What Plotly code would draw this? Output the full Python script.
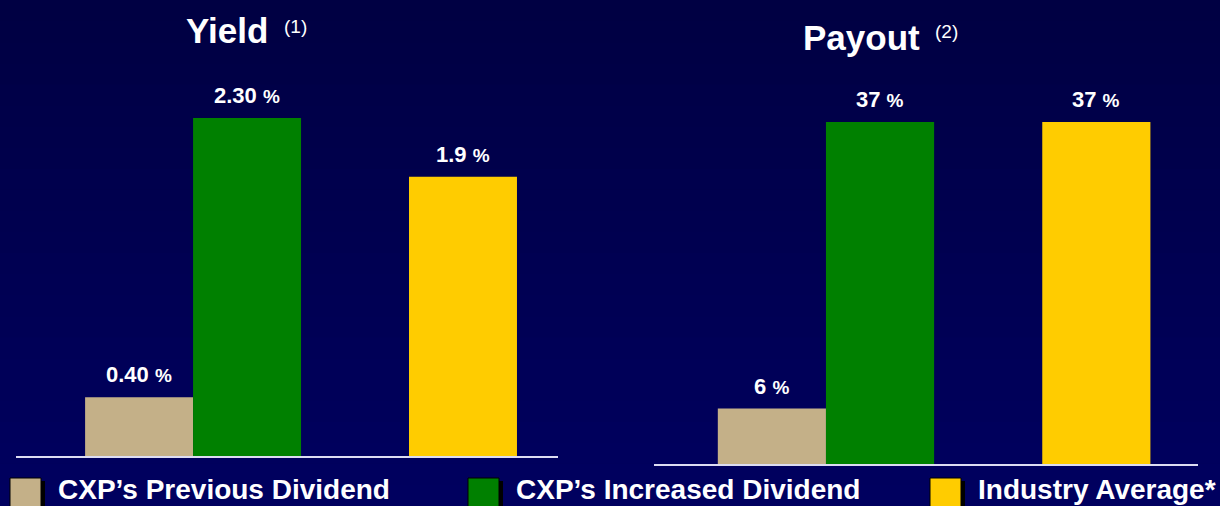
import plotly.graph_objects as go

# ---------------- data ----------------
series_names = ["CXP\u2019s Previous Dividend", "CXP\u2019s Increased Dividend", "Industry Average*"]
series_colors = ["#c4b088", "#008000", "#ffcc00"]
yield_values = [0.40, 2.30, 1.9]
yield_labels = ["0.40", "2.30", "1.9"]
payout_values = [6, 37, 37]
payout_labels = ["6", "37", "37"]
panel_titles = ["Yield", "Payout"]
panel_notes = ["(1)", "(2)"]

# ---------------- layout constants ----------------
W, H = 1220, 506
slot = [0, 1, 3]          # bar slots: first two adjacent, gap, third
FONT = "Liberation Sans, Arial, sans-serif"
BG = "#000052"
BG_TOP, BG_BOT = 0x42, 0x60   # blue channel of the vertical background gradient

fig = go.Figure()

for i, (name, color) in enumerate(zip(series_names, series_colors)):
    fig.add_trace(go.Bar(x=[slot[i]], y=[yield_values[i]], width=1, name=name,
                         marker=dict(color=color, line=dict(width=0)),
                         xaxis="x", yaxis="y", showlegend=False, hoverinfo="skip"))
    fig.add_trace(go.Bar(x=[slot[i]], y=[payout_values[i]], width=1, name=name,
                         marker=dict(color=color, line=dict(width=0)),
                         xaxis="x2", yaxis="y2", showlegend=False, hoverinfo="skip"))

annotations = []
# value labels
for xa, ya, vals, labs in [("x", "y", yield_values, yield_labels), ("x2", "y2", payout_values, payout_labels)]:
    for i in range(3):
        annotations.append(dict(
            x=slot[i], y=vals[i], xref=xa, yref=ya, yanchor="bottom", yshift=8,
            text="<b>%s</b> <span style='font-size:19px'><b>%%</b></span>" % labs[i],
            showarrow=False, font=dict(family=FONT, size=22, color="white")))

# panel titles
title_pos = [(227 / W, 1 - 31 / H, 295 / W, 1 - 26 / H), (861 / W, 1 - 37 / H, 946 / W, 1 - 32 / H)]
for t, n, (tx, ty, sx, sy) in zip(panel_titles, panel_notes, title_pos):
    annotations.append(dict(x=tx, y=ty, xref="paper", yref="paper", xanchor="center", yanchor="middle",
                            text="<b>%s</b>" % t, showarrow=False,
                            font=dict(family=FONT, size=35, color="white")))
    annotations.append(dict(x=sx, y=sy, xref="paper", yref="paper", xanchor="center", yanchor="middle",
                            text=n, showarrow=False,
                            font=dict(family=FONT, size=19, color="white")))

shapes = []
# background gradient bands (decorative)
NB = 24
for k in range(NB):
    b = round(BG_BOT + (BG_TOP - BG_BOT) * (k + 0.5) / NB)
    shapes.append(dict(type="rect", xref="paper", yref="paper", x0=0, x1=1,
                       y0=k / NB, y1=(k + 1) / NB + 0.002,
                       fillcolor="#0000%02x" % b, line=dict(width=0), layer="below"))

# custom legend (large swatches with drop shadow)
legend_x = [10, 468, 930]
for i, (name, color) in enumerate(zip(series_names, series_colors)):
    x0 = legend_x[i]
    shapes.append(dict(type="rect", xref="paper", yref="paper",
                       x0=(x0 + 3) / W, x1=(x0 + 35) / W, y0=1 - 512 / H, y1=1 - 481 / H,
                       fillcolor="black", line=dict(width=0), layer="above"))
    shapes.append(dict(type="rect", xref="paper", yref="paper",
                       x0=x0 / W, x1=(x0 + 31) / W, y0=1 - 509 / H, y1=1 - 478 / H,
                       fillcolor=color, line=dict(width=1, color="black"), layer="above"))
    annotations.append(dict(x=(x0 + 46) / W, y=1 - 489 / H, xref="paper", yref="paper",
                            xanchor="left", yanchor="middle", text="<b>%s</b>" % name,
                            showarrow=False, font=dict(family=FONT, size=28, color="white")))

axis_common = dict(showgrid=False, zeroline=False, showticklabels=False, ticks="",
                   showline=True, linecolor="#dcdcf2", linewidth=2, fixedrange=True)
yaxis_common = dict(showgrid=False, zeroline=False, showticklabels=False, ticks="",
                    showline=False, fixedrange=True)

fig.update_layout(
    width=W, height=H,
    margin=dict(l=0, r=0, t=0, b=0),
    paper_bgcolor=BG, plot_bgcolor="rgba(0,0,0,0)",
    barmode="overlay",
    showlegend=False,
    xaxis=dict(domain=[16 / W, 558 / W], range=[-1.14, 3.88], anchor="y", **axis_common),
    yaxis=dict(domain=[(H - 456) / H, (H - 60) / H], range=[0, 2.30 * (456 - 60) / (456 - 118)],
               anchor="x", **yaxis_common),
    xaxis2=dict(domain=[654 / W, 1198 / W], range=[-1.09, 3.94], anchor="y2", **axis_common),
    yaxis2=dict(domain=[(H - 464) / H, (H - 60) / H], range=[0, 37 * (464 - 60) / (464 - 122)],
                anchor="x2", **yaxis_common),
    annotations=annotations,
    shapes=shapes,
)

fig.write_html("out.html", config={"displayModeBar": False},
               post_script="document.body.style.margin='0';document.body.style.overflow='hidden';"
                           "document.body.style.background='%s';" % BG)
